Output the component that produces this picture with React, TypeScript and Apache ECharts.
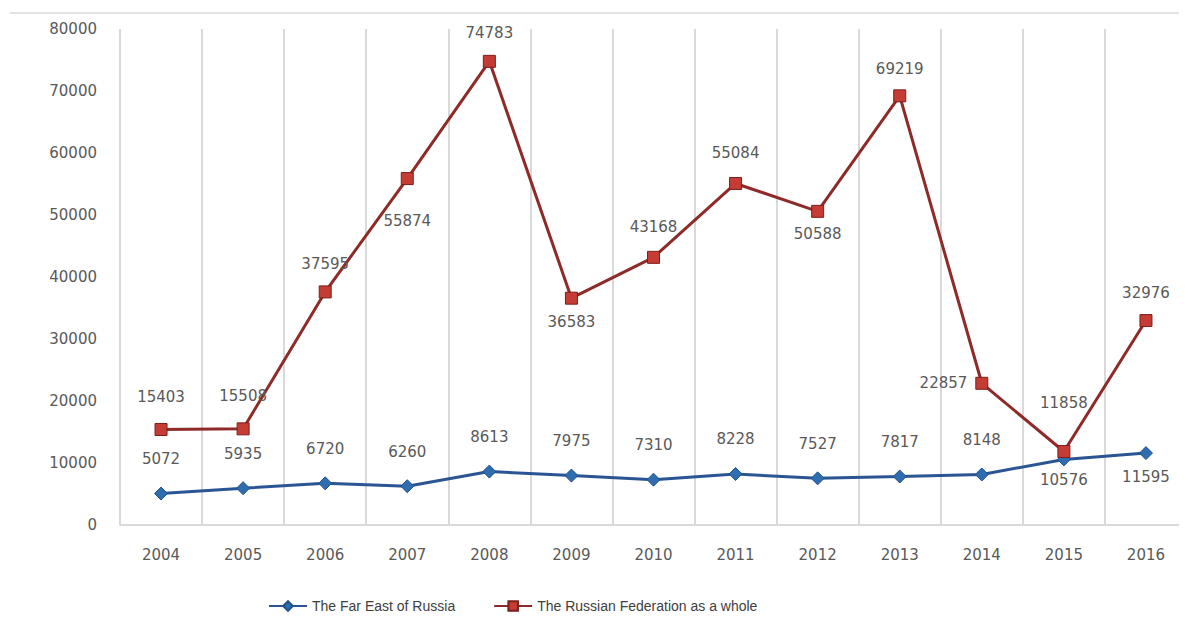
import React, { useEffect, useRef } from "react";
import * as echarts from "echarts";

const years = ["2004", "2005", "2006", "2007", "2008", "2009", "2010", "2011", "2012", "2013", "2014", "2015", "2016"];
const farEast = [5072, 5935, 6720, 6260, 8613, 7975, 7310, 8228, 7527, 7817, 8148, 10576, 11595];
const russia = [15403, 15508, 37595, 55874, 74783, 36583, 43168, 55084, 50588, 69219, 22857, 11858, 32976];
const yTicks = { min: 0, max: 80000, interval: 10000 };

// label placement (style, not data)
const farEastLabelPos = ["top", "top", "top", "top", "top", "top", "top", "top", "top", "top", "top", "bottom", "bottom"];
const farEastLabelDist = [20, 20, 20, 20, 20, 20, 20, 20, 20, 20, 20, 6, 9];
const russiaLabelPos = ["top", "top", "top", "bottom", "top", "bottom", "top", "top", "bottom", "top", "left", "top", "top"];
const russiaLabelDist = [19, 19, 14, 28, 14, 10, 16, 16, 9, 13, 8, 34, 14];

const labelColor = "#595959";
const font = "'DejaVu Sans', sans-serif";

export default function App() {
  const ref = useRef<HTMLDivElement>(null);
  useEffect(() => {
    if (!ref.current) return;
    const chart = echarts.init(ref.current, undefined, { renderer: "svg" });
    chart.setOption({
      animation: false,
      backgroundColor: "#ffffff",
      grid: { left: 120, top: 29, width: 1076, height: 496, containLabel: false },
      graphic: [
        {
          type: "line",
          shape: { x1: 10, y1: 13, x2: 1187, y2: 13 },
          style: { stroke: "#e3e3e3", lineWidth: 2 },
        },
      ],
      legend: {
        bottom: 14,
        left: 263,
        itemWidth: 38,
        itemHeight: 12,
        itemGap: 38,
        textStyle: { color: "#404040", fontSize: 14, fontFamily: "'Liberation Sans Narrow', 'Liberation Sans', sans-serif" },
        data: ["The Far East of Russia", "The Russian Federation as a whole"],
      },
      xAxis: {
        type: "category",
        data: years,
        boundaryGap: true,
        axisTick: { show: false },
        axisLine: { lineStyle: { color: "#d9d9d9", width: 2 } },
        splitLine: { show: true, lineStyle: { color: "#d9d9d9", width: 2 } },
        axisLabel: { color: labelColor, fontSize: 15, fontFamily: font, margin: 22 },
      },
      yAxis: {
        type: "value",
        min: yTicks.min,
        max: yTicks.max,
        interval: yTicks.interval,
        axisLine: { show: false },
        axisTick: { show: false },
        splitLine: { show: false },
        axisLabel: {
          color: labelColor,
          fontSize: 15,
          fontFamily: font,
          margin: 23,
          formatter: (v: number) => String(v),
        },
      },
      series: [
        {
          name: "The Far East of Russia",
          type: "line",
          symbol: "diamond",
          symbolSize: 13,
          lineStyle: { color: "#2a5592", width: 3 },
          itemStyle: { color: "#2e6eb0", borderColor: "#24508a", borderWidth: 1 },
          data: farEast.map((v, i) => ({
            value: v,
            label: { show: true, position: farEastLabelPos[i], distance: farEastLabelDist[i] },
          })),
          label: { color: labelColor, fontSize: 15, fontFamily: font },
          z: 3,
        },
        {
          name: "The Russian Federation as a whole",
          type: "line",
          symbol: "rect",
          symbolSize: 12,
          lineStyle: { color: "#8e2a28", width: 3 },
          itemStyle: { color: "#c43c33", borderColor: "#7c1f1c", borderWidth: 1 },
          data: russia.map((v, i) => ({
            value: v,
            label: { show: true, position: russiaLabelPos[i], distance: russiaLabelDist[i] },
          })),
          label: { color: labelColor, fontSize: 15, fontFamily: font },
          z: 4,
        },
      ],
    });
    return () => chart.dispose();
  }, []);
  return <div ref={ref} style={{ width: 1187, height: 632, margin: -8 }} />;
}
